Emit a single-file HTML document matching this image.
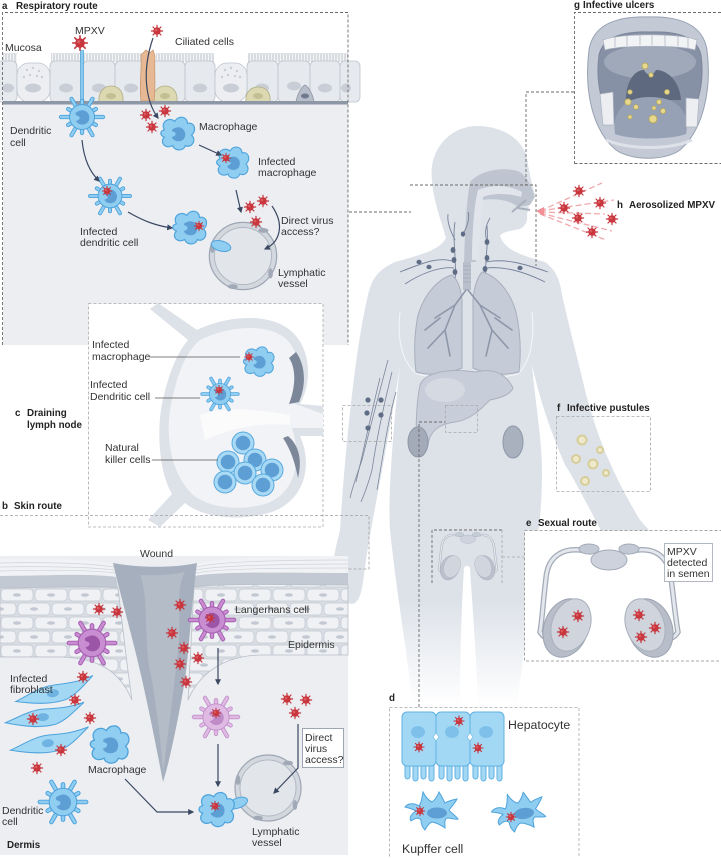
<!DOCTYPE html>
<html><head><meta charset="utf-8"><style>
html,body{margin:0;padding:0;background:#fff;}
svg{display:block;}
text{font-family:"Liberation Sans",sans-serif;fill:#333;}
.t{font-size:10.5px;}
.b{font-size:9.8px;font-weight:bold;fill:#222;}
.L{font-size:12.3px;}
</style></head><body>
<svg width="721" height="858" viewBox="0 0 721 858" xmlns="http://www.w3.org/2000/svg">
<defs>
<linearGradient id="bg" x1="0" y1="126" x2="0" y2="705" gradientUnits="userSpaceOnUse"><stop offset="0" stop-color="#dde2e9"/><stop offset="0.82" stop-color="#dde2e9"/><stop offset="1" stop-color="#ffffff"/></linearGradient>
<marker id="ar" viewBox="0 0 10 10" refX="8" refY="5" markerWidth="5" markerHeight="5" orient="auto"><path d="M0,0L10,5L0,10Z" fill="#3b4862"/></marker>
<g id="v"><path d="M0-5.6V5.6M-5.6 0H5.6M-4-4L4 4M-4 4L4-4" stroke="#c0343b" stroke-width="1.2" stroke-linecap="round"/><circle r="3.7" fill="#c9363e"/><circle cx="-1" cy="-1" r="1.3" fill="#d95a5f"/></g>
<g id="dc"><path d="M0 0L21 0M0 0L13.9 8M0 0L10.5 18.2M0 0L0 16M0 0L-10.5 18.2M0 0L-13.9 8M0 0L-21 0M0 0L-13.9 -8M0 0L-10.5 -18.2M0 0L0 -16M0 0L10.5 -18.2M0 0L13.9 -8" stroke="#4ea3dc" stroke-width="4.2" stroke-linecap="round"/><path d="M0 0L21 0M0 0L13.9 8M0 0L10.5 18.2M0 0L0 16M0 0L-10.5 18.2M0 0L-13.9 8M0 0L-21 0M0 0L-13.9 -8M0 0L-10.5 -18.2M0 0L0 -16M0 0L10.5 -18.2M0 0L13.9 -8" stroke="#8fcdf1" stroke-width="2.4" stroke-linecap="round"/><circle r="12.5" fill="#8fcdf1" stroke="#4ea3dc"/><path d="M-3,-6 C3,-9 9,-3 7,3 C5,9 -3,9 -6,4 C-2,3 -1,0 -4,-1 C-8,-2 -7,-5 -3,-6Z" fill="#5d9fd5"/></g>
<g id="lc"><path d="M0 0L21 0M0 0L13.9 8M0 0L10.5 18.2M0 0L0 16M0 0L-10.5 18.2M0 0L-13.9 8M0 0L-21 0M0 0L-13.9 -8M0 0L-10.5 -18.2M0 0L0 -16M0 0L10.5 -18.2M0 0L13.9 -8" stroke="#a65db2" stroke-width="4.2" stroke-linecap="round"/><path d="M0 0L21 0M0 0L13.9 8M0 0L10.5 18.2M0 0L0 16M0 0L-10.5 18.2M0 0L-13.9 8M0 0L-21 0M0 0L-13.9 -8M0 0L-10.5 -18.2M0 0L0 -16M0 0L10.5 -18.2M0 0L13.9 -8" stroke="#c98dd1" stroke-width="2.4" stroke-linecap="round"/><circle r="12.5" fill="#c98dd1" stroke="#a65db2"/><path d="M-3,-6 C3,-9 9,-3 7,3 C5,9 -3,9 -6,4 C-2,3 -1,0 -4,-1 C-8,-2 -7,-5 -3,-6Z" fill="#9c56a8"/></g>
<g id="lc2"><path d="M0 0L21 0M0 0L13.9 8M0 0L10.5 18.2M0 0L0 16M0 0L-10.5 18.2M0 0L-13.9 8M0 0L-21 0M0 0L-13.9 -8M0 0L-10.5 -18.2M0 0L0 -16M0 0L10.5 -18.2M0 0L13.9 -8" stroke="#c594cd" stroke-width="4.2" stroke-linecap="round"/><path d="M0 0L21 0M0 0L13.9 8M0 0L10.5 18.2M0 0L0 16M0 0L-10.5 18.2M0 0L-13.9 8M0 0L-21 0M0 0L-13.9 -8M0 0L-10.5 -18.2M0 0L0 -16M0 0L10.5 -18.2M0 0L13.9 -8" stroke="#dfbbe4" stroke-width="2.4" stroke-linecap="round"/><circle r="12.5" fill="#dfbbe4" stroke="#c594cd"/><path d="M-3,-6 C3,-9 9,-3 7,3 C5,9 -3,9 -6,4 C-2,3 -1,0 -4,-1 C-8,-2 -7,-5 -3,-6Z" fill="#bf8cc8"/></g>
<g id="mp"><path d="M-13,-4 C-17,-11 -9,-17 -3,-12 C0,-18 9,-17 9,-10 C16,-12 18,-3 13,1 C18,6 13,14 7,11 C5,17 -4,16 -5,11 C-12,15 -18,8 -13,3 C-18,1 -17,-3 -13,-4Z" fill="#8fcdf1" stroke="#4ea3dc" stroke-width="1.1"/><path d="M-2,-6 C4,-8 9,-2 6,4 C4,8 -4,8 -6,3 C-2,2 -1,-1 -4,-2 C-7,-3 -6,-5 -2,-6Z" fill="#5d9fd5"/></g>
<g id="nk"><circle r="11" fill="#a8d9f5" stroke="#5aa9de"/><circle r="7.3" fill="#5d9fd5"/></g>
<g id="lv"><circle r="33" fill="#d3d8df" stroke="#9ea6b4" stroke-width="1.2"/><circle r="28" fill="#e2e5ea" stroke="#b2b9c5"/><ellipse cx="-30" cy="-8" rx="2.3" ry="5" fill="#a1a9b6"/><ellipse cx="20" cy="-25" rx="5" ry="2.3" fill="#a1a9b6"/><ellipse cx="27" cy="17" rx="2.3" ry="5" fill="#a1a9b6"/><ellipse cx="-10" cy="30" rx="5" ry="2.3" fill="#a1a9b6"/></g>
<g id="fb"><path d="M-40,2 C-25,-3 -15,-9 0,-9 C12,-9 22,-8 40,-13 C28,-3 20,4 10,7 C-5,10 -22,7 -40,2Z" fill="#a3d8f5" stroke="#4ea3dc"/><ellipse cx="-2" cy="-1" rx="6" ry="4" fill="#6fb3e3"/></g>
<g id="kc"><path d="M-14,-6 C-20,-10 -26,-8 -28,-5 C-24,-4 -20,-3 -17,-1 C-22,2 -24,6 -22,9 C-18,6 -14,5 -12,8 C-12,13 -10,16 -8,18 C-6,14 -4,11 -1,10 C4,11 8,13 12,16 C12,11 11,8 14,6 C18,6 22,8 25,7 C22,3 18,1 16,-2 C19,-6 22,-9 24,-13 C19,-12 15,-11 12,-9 C10,-13 8,-17 6,-20 C4,-15 2,-12 -1,-10 C-5,-12 -8,-16 -10,-20 C-11,-15 -11,-10 -14,-6Z" fill="#8fcdf1" stroke="#4ea3dc"/><ellipse cx="4" cy="1" rx="10" ry="5.5" fill="#5d9fd5"/></g>
<g id="hep"><rect x="3" y="45" width="5" height="22" rx="2.5" fill="#a3d8f5" stroke="#5fb0e2"/><rect x="11" y="45" width="5" height="24" rx="2.5" fill="#a3d8f5" stroke="#5fb0e2"/><rect x="19" y="45" width="5" height="22" rx="2.5" fill="#a3d8f5" stroke="#5fb0e2"/><rect x="27" y="45" width="5" height="24" rx="2.5" fill="#a3d8f5" stroke="#5fb0e2"/><rect x="0" y="0" width="34" height="54" rx="5" fill="#a3d8f5" stroke="#5fb0e2"/><ellipse cx="16" cy="20" rx="7" ry="6" fill="#7fc0ea"/></g>
<g id="organ">
<path d="M590,552 C565,545 548,555 546,578 C543,602 542,622 540,632 C545,640 552,640 556,635" fill="none" stroke="#a3abb9" stroke-width="5.5" stroke-linecap="round"/>
<path d="M590,552 C565,545 548,555 546,578 C543,602 542,622 540,632 C545,640 552,640 556,635" fill="none" stroke="#e4e7ec" stroke-width="3" stroke-linecap="round"/>
<path d="M628,552 C653,545 668,555 671,578 C674,602 676,622 678,632 C673,640 666,640 662,635" fill="none" stroke="#a3abb9" stroke-width="5.5" stroke-linecap="round"/>
<path d="M628,552 C653,545 668,555 671,578 C674,602 676,622 678,632 C673,640 666,640 662,635" fill="none" stroke="#e4e7ec" stroke-width="3" stroke-linecap="round"/>
<ellipse cx="589" cy="549" rx="10" ry="5" fill="#c4cad5" stroke="#a3abb9"/>
<ellipse cx="629" cy="549" rx="10" ry="5" fill="#c4cad5" stroke="#a3abb9"/>
<ellipse cx="609" cy="560" rx="18" ry="10" fill="#cdd2dc" stroke="#a3abb9"/>
<ellipse cx="566" cy="628" rx="22" ry="30" transform="rotate(20 566 628)" fill="#b7bec9" stroke="#9aa2b0"/>
<ellipse cx="571" cy="625" rx="19" ry="27" transform="rotate(20 571 625)" fill="#cfd4dd" stroke="#a9b0bd"/>
<ellipse cx="650" cy="628" rx="22" ry="30" transform="rotate(-20 650 628)" fill="#b7bec9" stroke="#9aa2b0"/>
<ellipse cx="645" cy="625" rx="19" ry="27" transform="rotate(-20 645 625)" fill="#cfd4dd" stroke="#a9b0bd"/>
</g>
<pattern id="cil" x="0" y="53" width="3" height="10" patternUnits="userSpaceOnUse"><rect x="0.6" y="0" width="1.8" height="10" rx="0.9" fill="#f3f4f6" stroke="#b3bac5" stroke-width="0.5"/></pattern>
<pattern id="skc" x="0" y="588" width="34" height="28" patternUnits="userSpaceOnUse"><rect width="34" height="28" fill="#d9dde4"/><rect x="1" y="1" width="32" height="12" rx="4" fill="#eff1f4" stroke="#c4c9d2" stroke-width="0.7"/><ellipse cx="17" cy="7" rx="4" ry="1.8" fill="#c3c9d2"/><rect x="-16" y="15" width="32" height="12" rx="4" fill="#eff1f4" stroke="#c4c9d2" stroke-width="0.7"/><rect x="18" y="15" width="32" height="12" rx="4" fill="#eff1f4" stroke="#c4c9d2" stroke-width="0.7"/><ellipse cx="0" cy="21" rx="4" ry="1.8" fill="#c3c9d2"/><ellipse cx="34" cy="21" rx="4" ry="1.8" fill="#c3c9d2"/></pattern>
</defs>
<rect width="721" height="858" fill="#fff"/>

<!-- ===== BODY ===== -->
<path d="M477,126 C505,126 527,142 528,165 C530,175 532,185 535,195 L528,200 C530,205 528,210 527,214 C528,220 526,226 520,229 C510,231 502,232 500,236 C505,250 520,255 545,262 C556,270 560,280 562,295 C570,330 578,360 585,390 C595,430 610,470 640,520 L665,548 L610,548 C590,510 575,480 565,465 C550,430 540,400 532,365 C535,400 542,440 542,470 C542,500 540,520 538,535 C535,580 525,640 517,705 L478,705 C476,650 472,600 470,568 C468,565 466,565 464,568 C462,600 460,650 460,705 L413,705 C405,640 395,580 390,530 C388,500 392,440 400,365 C392,420 380,480 371,530 C368,545 366,560 364,575 C362,590 360,603 352,604 C342,603 333,590 333,570 C334,550 338,540 340,530 C345,450 355,350 368,295 C372,278 378,270 395,262 C420,255 440,250 446,238 C441,220 433,200 432,180 C428,150 450,126 477,126Z" fill="url(#bg)"/>
<!-- head internals -->
<path d="M470,182 C480,170 505,166 520,172 C528,178 532,188 535,197 L530,205 L518,207 C510,200 495,198 482,200 C478,210 478,230 476,262 L464,262 C465,235 466,205 470,182Z" fill="#bec5d0"/>
<path d="M478,190 C492,184 510,185 522,192 L521,197 C508,193 492,193 483,197 C481,215 480,240 478,260 L472,260 C472,235 474,205 478,190Z" fill="#e1e5eb"/>
<path d="M512,212 L526,200 M518,208 L530,210" stroke="#a8b0bd" stroke-width="2" fill="none"/>
<!-- neck lymph -->
<g stroke="#76829a" stroke-width="0.9" fill="none">
<path d="M455,222 C452,240 457,258 455,282"/><path d="M487,226 C489,245 484,262 486,282"/>
<path d="M455,262 C440,256 425,262 400,272"/><path d="M454,268 C440,266 420,274 405,284"/>
<path d="M486,262 C505,258 525,264 548,272"/><path d="M486,268 C505,266 525,272 545,282"/>
<path d="M455,240 C450,230 447,222 448,214"/><path d="M463,234 C468,225 470,218 468,212"/>
<path d="M487,242 C484,232 486,225 490,218"/>
</g>
<g fill="#5f6c85"><ellipse cx="453" cy="250" rx="2.4" ry="3"/><ellipse cx="454" cy="260" rx="2.4" ry="3"/><ellipse cx="455" cy="272" rx="2.4" ry="3"/><ellipse cx="463" cy="234" rx="2.2" ry="2.6"/><ellipse cx="487" cy="242" rx="2.4" ry="3"/><ellipse cx="487" cy="258" rx="2.4" ry="3"/><ellipse cx="485" cy="269" rx="2.4" ry="3"/><ellipse cx="419" cy="262" rx="2.6" ry="2.2"/><ellipse cx="429" cy="267" rx="2.6" ry="2.2"/><ellipse cx="520" cy="268" rx="2.6" ry="2.2"/></g>
<!-- thorax outline -->
<path d="M400,312 C397,340 402,362 417,374 C440,380 495,380 518,374 C530,362 535,340 532,312" stroke="#f4f5f7" stroke-width="1" fill="none"/>
<!-- lungs -->
<path d="M452,275 C440,278 425,292 418,315 C414,335 414,355 416,372 C430,376 448,374 462,368 L462,300 C461,290 458,280 452,275Z" fill="#c5ccd7" stroke="#a7afbd"/>
<path d="M482,272 C495,275 510,290 516,312 C521,335 521,355 519,372 C505,376 487,374 473,368 L473,300 C474,288 477,278 482,272Z" fill="#c5ccd7" stroke="#a7afbd"/>
<rect x="463" y="262" width="8" height="28" fill="#b9c0cc"/>
<path d="M463,266h8M463,270h8M463,274h8M463,278h8M463,282h8" stroke="#a2aab8" stroke-width="0.7"/>
<g stroke="#8d97a9" stroke-width="1.6" fill="none" stroke-linecap="round">
<path d="M466,290 L455,305 L445,330 M455,305 L435,318 M445,330 L428,348 M445,330 L450,356 M440,318 L425,330"/>
<path d="M468,290 L480,305 L492,330 M480,305 L500,318 M492,330 L508,348 M492,330 L486,356 M495,318 L512,330"/>
</g>
<!-- liver -->
<path d="M420,385 C425,372 450,368 475,372 C492,368 505,372 513,388 C510,395 500,398 490,400 C480,410 470,420 455,422 C440,424 430,430 428,445 C426,452 424,456 420,457 C414,445 416,405 420,385Z" fill="#c8ced9" stroke="#aab2bf"/>
<ellipse cx="445" cy="390" rx="20" ry="12" fill="#d4d9e2"/>
<ellipse cx="418" cy="442" rx="10" ry="15" fill="#a3abb9" stroke="#8d97a7"/>
<ellipse cx="513" cy="442" rx="10" ry="16" fill="#a9b1bf" stroke="#8d97a7"/>
<!-- arm lymph -->
<g stroke="#7c879b" stroke-width="0.8" fill="none">
<path d="M388,360 C380,390 372,420 362,460 C357,475 353,485 350,498"/>
<path d="M392,372 C385,400 378,430 372,470 C368,485 364,495 361,502"/>
<path d="M380,378 C372,410 366,440 356,482"/>
<path d="M396,392 C388,420 384,450 377,490"/>
</g>
<g fill="#5f6c85"><circle cx="368" cy="400" r="2.6"/><circle cx="381" cy="400" r="2.6"/><circle cx="367" cy="413" r="2.6"/><circle cx="381" cy="415" r="2.6"/><circle cx="368" cy="428" r="2.6"/></g>
<!-- pustules -->
<g fill="#efe9cc" stroke="#d6cd98" stroke-width="2"><circle cx="582" cy="440" r="4.5"/><circle cx="576" cy="459" r="4"/><circle cx="593" cy="464" r="4.5"/><circle cx="600" cy="450" r="3"/><circle cx="585" cy="481" r="4"/><circle cx="606" cy="473" r="3"/></g>
<!-- pelvis sketch -->
<g transform="translate(468,556) scale(0.42) translate(-609,-600)" opacity="0.9"><use href="#organ"/></g>

<!-- ===== PANEL A ===== -->
<rect x="3" y="104" width="345" height="241" fill="#eceef2"/>
<g fill="url(#cil)"><rect x="3" y="53" width="14" height="9"/><rect x="51" y="53" width="96" height="9"/><rect x="156" y="53" width="58" height="9"/><rect x="248" y="53" width="100" height="9"/></g>
<g fill="#e6e9ed" stroke="#bfc5ce" stroke-width="0.8">
<rect x="-10" y="61" width="27" height="41" rx="5"/><rect x="50" y="61" width="33" height="41" rx="5"/><rect x="83" y="61" width="32" height="41" rx="5"/><rect x="115" y="61" width="33" height="41" rx="5"/><rect x="148" y="61" width="37" height="41" rx="5"/><rect x="185" y="61" width="30" height="41" rx="5"/><rect x="247" y="61" width="31" height="41" rx="5"/><rect x="278" y="61" width="32" height="41" rx="5"/><rect x="310" y="61" width="30" height="41" rx="5"/><rect x="340" y="61" width="20" height="41" rx="5"/>
</g>
<g fill="#eceef1" stroke="#bfc5ce" stroke-width="0.8"><rect x="17" y="63" width="33" height="39" rx="12"/><rect x="215" y="63" width="32" height="39" rx="12"/></g>
<g fill="#c9ced6"><circle cx="27" cy="70" r="1.2"/><circle cx="33" cy="68" r="1.2"/><circle cx="39" cy="71" r="1.2"/><circle cx="30" cy="75" r="1.2"/><circle cx="37" cy="76" r="1.2"/><circle cx="24" cy="77" r="1.2"/><circle cx="42" cy="77" r="1.2"/><circle cx="225" cy="70" r="1.2"/><circle cx="231" cy="68" r="1.2"/><circle cx="237" cy="71" r="1.2"/><circle cx="228" cy="75" r="1.2"/><circle cx="235" cy="76" r="1.2"/><circle cx="222" cy="77" r="1.2"/><circle cx="240" cy="77" r="1.2"/>
<ellipse cx="33" cy="88" rx="8" ry="4.5"/><ellipse cx="231" cy="88" rx="8" ry="4.5"/>
<ellipse cx="8" cy="88" rx="6" ry="4.5"/><ellipse cx="66" cy="88" rx="7" ry="4.5"/><ellipse cx="99" cy="88" rx="7" ry="4.5"/><ellipse cx="131" cy="88" rx="7" ry="4.5"/><ellipse cx="200" cy="88" rx="7" ry="4.5"/><ellipse cx="262" cy="88" rx="7" ry="4.5"/><ellipse cx="294" cy="86" rx="7" ry="4.5"/><ellipse cx="325" cy="88" rx="7" ry="4.5"/><ellipse cx="346" cy="88" rx="5" ry="4.5"/></g>
<g fill="#dcd9b2" stroke="#b1ad85" stroke-width="0.8"><path d="M99,102 C98,92 104,86 111,86 C119,86 124,92 123,102Z"/><path d="M153,102 C152,92 158,86 165,86 C173,86 178,92 177,102Z"/><path d="M246,102 C245,92 251,87 258,87 C266,87 271,92 270,102Z"/></g>
<g fill="#c4bf92"><ellipse cx="111" cy="96" rx="5" ry="3"/><ellipse cx="165" cy="96" rx="5" ry="3"/><ellipse cx="258" cy="96" rx="5" ry="3"/></g>
<path d="M296,102 C297,95 301,87 305,85 C309,87 313,95 314,102Z" fill="#b7bdc9" stroke="#8e97a6" stroke-width="0.8"/><ellipse cx="305" cy="96" rx="4" ry="2.5" fill="#6f7a8e"/>
<path d="M141,101 C139,85 142,70 141,55 L146,50 L150,53 L153,50 L155,56 C154,70 156,85 154,101Z" fill="#e6b893" stroke="#c99972" stroke-width="0.8"/>
<rect x="3" y="101" width="345" height="3.5" fill="#8e97a6"/>
<path d="M82,50 V106" stroke="#4ea3dc" stroke-width="3.6"/><path d="M82,50 V106" stroke="#8fcdf1" stroke-width="1.8"/>
<use href="#lv" transform="translate(243,256) scale(1.02)"/>
<use href="#dc" transform="translate(82,117)"/>
<use href="#mp" transform="translate(178,134) scale(1.05)"/>
<use href="#mp" transform="translate(233,163)"/>
<use href="#dc" transform="translate(110,196) scale(0.95)"/>
<ellipse cx="221" cy="246" rx="10" ry="5" transform="rotate(15 221 246)" fill="#8fcdf1" stroke="#4ea3dc"/>
<use href="#mp" transform="translate(190,228) scale(1.05)"/>
<g fill="none" stroke="#3b4862" stroke-width="1.2">
<path d="M153,38 C142,70 145,100 158,118" marker-end="url(#ar)"/>
<path d="M82,140 C84,160 90,172 99,181" marker-end="url(#ar)"/>
<path d="M128,212 C145,222 158,226 172,228" marker-end="url(#ar)"/>
<path d="M199,145 L221,155" marker-end="url(#ar)"/>
<path d="M236,190 L241,212" marker-end="url(#ar)"/>
<path d="M272,206 C285,225 280,242 265,249" marker-end="url(#ar)"/>
</g>
<use href="#v" transform="translate(80,43) scale(1.3)"/>
<use href="#v" transform="translate(157,31)"/>
<use href="#v" transform="translate(146,115)"/><use href="#v" transform="translate(165,111)"/><use href="#v" transform="translate(152,127)"/>
<use href="#v" transform="translate(226,158) scale(0.85)"/><use href="#v" transform="translate(107,191) scale(0.85)"/><use href="#v" transform="translate(199,226) scale(0.85)"/>
<use href="#v" transform="translate(250,207)"/><use href="#v" transform="translate(263,201)"/><use href="#v" transform="translate(256,222)"/>
<text class="b" x="2" y="9">a</text><text class="b" x="16" y="9">Respiratory route</text>
<text class="t" x="5" y="51">Mucosa</text>
<text class="t" x="75" y="34">MPXV</text>
<text class="t" x="175" y="45">Ciliated cells</text>
<text class="t" x="10" y="134">Dendritic</text><text class="t" x="10" y="146">cell</text>
<text class="t" x="199" y="130">Macrophage</text>
<text class="t" x="258" y="165">Infected</text><text class="t" x="258" y="176">macrophage</text>
<text class="t" x="80" y="235">Infected</text><text class="t" x="80" y="246">dendritic cell</text>
<text class="t" x="281" y="224">Direct virus</text><text class="t" x="281" y="235">access?</text>
<text class="t" x="278" y="276">Lymphatic</text><text class="t" x="278" y="287">vessel</text>
<path d="M2.5,345 V12.5 H348 V345" fill="none" stroke="#6a6a6a" stroke-width="0.9" stroke-dasharray="3 2"/>

<!-- ===== PANEL C ===== -->
<rect x="88.5" y="303.5" width="234.5" height="223.5" fill="#fff" stroke="#aaa" stroke-width="0.8" stroke-dasharray="3 2"/>
<path d="M150,309 L158,303 L197,330 C225,316 268,312 290,330 C312,348 312,383 300,404 L323,406 L323,436 L300,436 C313,465 305,500 272,512 C240,522 203,518 185,503 L160,527 L148,520 L172,494 C158,470 156,425 164,395 C170,370 178,352 188,340Z" fill="#dde1e8"/>
<path d="M200,340 C228,326 266,323 285,338 C302,353 303,382 290,402 L323,414 L323,428 L292,428 C302,458 296,492 268,503 C240,512 208,508 192,494 C168,470 165,428 172,400 C178,372 186,352 200,340Z" fill="#f2f3f6"/>
<path d="M296,352 C306,366 306,386 299,402 L289,404 C296,386 296,368 289,358Z" fill="#7d879a"/>
<path d="M288,436 C300,446 302,462 298,478 C295,463 291,450 283,438Z" fill="#7d879a"/>
<path d="M200,415 C225,405 260,410 290,415 L290,425 C260,422 230,428 205,440Z" fill="#fbfbfc"/>
<use href="#mp" transform="translate(259,362) scale(0.95)"/>
<use href="#dc" transform="translate(220,394) scale(0.85)"/>
<use href="#v" transform="translate(249,357) scale(0.8)"/><use href="#v" transform="translate(219,390) scale(0.8)"/>
<use href="#nk" transform="translate(243,443)"/><use href="#nk" transform="translate(255,460)"/><use href="#nk" transform="translate(272,470)"/><use href="#nk" transform="translate(228,462)"/><use href="#nk" transform="translate(245,473)"/><use href="#nk" transform="translate(225,482)"/><use href="#nk" transform="translate(263,485)"/>
<g stroke="#555" stroke-width="0.8"><path d="M150,357 H240"/><path d="M155,398 H200"/><path d="M152,460 H218"/></g>
<text class="t" x="92" y="348">Infected</text><text class="t" x="92" y="360">macrophage</text>
<text class="t" x="90" y="388">Infected</text><text class="t" x="90" y="400">Dendritic cell</text>
<text class="t" x="105" y="451">Natural</text><text class="t" x="105" y="463">killer cells</text>
<text class="b" x="15" y="416">c</text><text class="b" x="27" y="416">Draining</text><text class="b" x="27" y="428">lymph node</text>

<!-- ===== PANEL B ===== -->
<rect x="0" y="556" width="348" height="299" fill="#eceef2"/>
<path d="M0,559 C40,558 90,559 113,564 L116,577 C90,573 40,576 0,576Z" fill="#f1f2f5"/>
<path d="M0,563 C40,562 90,563 114,567 M0,567 C40,566 90,567 114,570 M0,571 C40,570 90,570 115,573" stroke="#cfd3da" stroke-width="0.7" fill="none"/>
<path d="M0,576 C40,576 90,573 116,577 L118,588 C90,585 40,588 0,588Z" fill="#c3c9d3"/>
<path d="M0,588 C40,588 90,585 118,588 C122,620 126,660 132,700 C120,672 100,658 60,657 L0,657Z" fill="url(#skc)" stroke="#b9bfc9" stroke-width="0.8"/>
<path d="M348,556 C300,556 220,557 197,564 L195,576 C220,571 300,573 348,573Z" fill="#f1f2f5"/>
<path d="M348,560 C300,560 220,561 197,567 M348,564 C300,564 220,565 196,570 M348,568 C300,568 220,568 196,573" stroke="#cfd3da" stroke-width="0.7" fill="none"/>
<path d="M348,573 C300,573 220,571 195,576 L194,587 C220,583 300,585 348,585Z" fill="#c3c9d3"/>
<path d="M348,585 C300,585 220,583 194,587 C192,620 190,660 188,700 C200,672 225,656 260,655 L348,655Z" fill="url(#skc)" stroke="#b9bfc9" stroke-width="0.8"/>
<path d="M113,563 C140,568 175,568 197,563 C192,600 190,640 185,680 C178,720 170,760 163,782 C155,740 145,690 135,650 C125,610 118,585 113,563Z" fill="#a6afbd"/>
<path d="M140,575 C150,600 142,640 152,680 C158,720 162,750 163,775 C168,730 174,690 178,650 C182,610 175,590 185,572 C170,575 155,576 140,575Z" fill="#b4bcc8"/>
<use href="#lc" transform="translate(92,643) scale(1.1)"/>
<use href="#lc" transform="translate(212,620) scale(1.05)"/>
<use href="#lc2" transform="translate(216,717) scale(1.05)"/>
<use href="#fb" transform="translate(55,694) rotate(-8)"/>
<use href="#fb" transform="translate(45,718) rotate(-4)"/>
<use href="#fb" transform="translate(50,744) rotate(-6)"/>
<use href="#mp" transform="translate(110,745) scale(1.2)"/>
<use href="#dc" transform="translate(63,802) scale(1.1)"/>
<use href="#lv" transform="translate(268,788)"/>
<ellipse cx="238" cy="803" rx="10" ry="5" transform="rotate(-20 238 803)" fill="#8fcdf1" stroke="#4ea3dc"/>
<use href="#mp" transform="translate(217,810) scale(1.1)"/>
<g fill="none" stroke="#3b4862" stroke-width="1.2">
<path d="M218,648 V684" marker-end="url(#ar)"/>
<path d="M218,744 V786" marker-end="url(#ar)"/>
<path d="M125,779 L157,812 H193" marker-end="url(#ar)"/>
<path d="M298,724 V768 L274,793" marker-end="url(#ar)"/>
</g>
<rect x="302.5" y="728.5" width="41" height="39" fill="#fff" stroke="#8a93a3" stroke-width="0.8"/>
<text class="t" x="305" y="741">Direct</text><text class="t" x="305" y="752">virus</text><text class="t" x="305" y="763">access?</text>
<use href="#v" transform="translate(99,609)"/><use href="#v" transform="translate(117,612)"/><use href="#v" transform="translate(180,605)"/><use href="#v" transform="translate(172,633)"/><use href="#v" transform="translate(184,648)"/><use href="#v" transform="translate(180,664)"/><use href="#v" transform="translate(198,658)"/><use href="#v" transform="translate(186,682)"/><use href="#v" transform="translate(83,677)"/><use href="#v" transform="translate(90,718)"/><use href="#v" transform="translate(75,700)"/><use href="#v" transform="translate(33,719)"/><use href="#v" transform="translate(61,750)"/><use href="#v" transform="translate(37,768)"/><use href="#v" transform="translate(287,699)"/><use href="#v" transform="translate(306,700)"/><use href="#v" transform="translate(295,713)"/>
<use href="#v" transform="translate(215,806) scale(0.85)"/><use href="#v" transform="translate(210,618) scale(0.85)"/><use href="#v" transform="translate(216,713) scale(0.85)"/>
<text class="b" x="2" y="509">b</text><text class="b" x="14" y="509">Skin route</text>
<text class="t" x="140" y="557">Wound</text>
<text class="t" x="235" y="613">Langerhans cell</text>
<text class="t" x="288" y="648">Epidermis</text>
<text class="t" x="10" y="682">Infected</text><text class="t" x="10" y="693">fibroblast</text>
<text class="t" x="88" y="773">Macrophage</text>
<text class="t" x="2" y="814">Dendritic</text><text class="t" x="2" y="825">cell</text>
<text class="b" x="7" y="848">Dermis</text>
<text class="t" x="252" y="835">Lymphatic</text><text class="t" x="252" y="846">vessel</text>
<path d="M0,515.5 H369 V569 H348" fill="none" stroke="#a0a0a0" stroke-width="0.8" stroke-dasharray="3 2"/>

<!-- ===== PANEL G ===== -->
<path d="M574.5,164 V12.5 H721" fill="none" stroke="#6a6a6a" stroke-width="0.9" stroke-dasharray="3 2"/>
<path d="M574.5,163.5 H721" fill="none" stroke="#6a6a6a" stroke-width="0.9" stroke-dasharray="3 2"/>
<path d="M648,17 C680,16 703,25 707,50 C712,90 703,130 680,150 C665,161 632,161 616,150 C592,130 584,90 589,50 C593,25 616,16 648,17Z" fill="#c3cad6" stroke="#97a1b2"/>
<path d="M650,32 C680,31 697,38 701,55 C705,85 697,115 680,128 C665,136 635,136 620,128 C603,115 595,85 599,55 C603,38 620,31 650,32Z" fill="#8791a6" stroke="#7d879b"/>
<ellipse cx="650" cy="62" rx="46" ry="17" fill="#a0a9ba"/>
<path d="M603,40 C620,33 680,33 697,40 L695,50 C680,45 620,45 605,50Z" fill="#f2f3f5" stroke="#aab2c0" stroke-width="0.7"/>
<path d="M615,36V47M627,35V46M640,34V45M652,34V45M665,35V46M678,35V46M688,37V48" stroke="#aab2c0" stroke-width="0.7"/>
<path d="M626,100 C626,82 634,70 644,70 C647,76 653,76 656,70 C668,70 680,82 681,100Z" fill="#5e6980"/>
<path d="M615,134 C612,114 622,97 650,97 C680,97 690,114 686,134 C670,140 630,140 615,134Z" fill="#97a1b5"/>
<path d="M600,94 L613,92 L614,125 L603,125Z" fill="#eceef1" stroke="#aab2c0" stroke-width="0.7"/>
<path d="M686,98 L699,99 L697,127 L686,127Z" fill="#eceef1" stroke="#aab2c0" stroke-width="0.7"/>
<path d="M606,140 C630,150 670,150 692,140" stroke="#dde1e8" stroke-width="3" fill="none"/>
<g fill="#e6d98f" stroke="#b6a656" stroke-width="0.8"><circle cx="645" cy="66" r="3"/><circle cx="651" cy="75" r="2.2"/><circle cx="630" cy="92" r="2.2"/><circle cx="667" cy="92" r="2.5"/><circle cx="628" cy="102" r="3.2"/><circle cx="636" cy="107" r="2.4"/><circle cx="659" cy="102" r="2.4"/><circle cx="654" cy="108" r="2"/><circle cx="663" cy="111" r="2.6"/><circle cx="630" cy="117" r="2"/><circle cx="653" cy="119" r="4"/></g>
<text class="b" x="574" y="8">g</text><text class="b" x="583" y="8">Infective ulcers</text>

<!-- ===== PANEL H ===== -->
<g stroke="#f0a9ad" stroke-width="1.3" stroke-dasharray="6 3" fill="none"><path d="M540,211 L602,183"/><path d="M540,211 L614,200"/><path d="M540,212 L605,214"/><path d="M540,213 L612,231"/><path d="M540,214 L606,240"/></g>
<path d="M536,211 L544,207 L544,216Z" fill="#f08f95"/>
<use href="#v" transform="translate(579,191)"/><use href="#v" transform="translate(600,203)"/><use href="#v" transform="translate(564,208)"/><use href="#v" transform="translate(578,218)"/><use href="#v" transform="translate(592,232)"/><use href="#v" transform="translate(612,219)"/>
<text class="b" x="617" y="208">h</text><text class="b" x="629" y="208">Aerosolized MPXV</text>

<!-- ===== PANEL F ===== -->
<rect x="556.5" y="416.5" width="94" height="75" fill="none" stroke="#a8a8a8" stroke-width="0.8" stroke-dasharray="3 2"/>
<text class="b" x="557" y="411">f</text><text class="b" x="567" y="411">Infective pustules</text>

<!-- ===== PANEL E ===== -->
<rect x="524.5" y="530.5" width="197" height="130.5" fill="#fff" stroke="#8a8a8a" stroke-width="0.8" stroke-dasharray="3 2"/>
<use href="#organ"/>
<use href="#v" transform="translate(578,616)"/><use href="#v" transform="translate(563,632)"/><use href="#v" transform="translate(639,615)"/><use href="#v" transform="translate(655,628)"/><use href="#v" transform="translate(641,637)"/>
<rect x="664.5" y="543.5" width="48" height="38" fill="#fff" stroke="#a0a7b3" stroke-width="0.8"/>
<text class="t" x="667" y="555">MPXV</text><text class="t" x="667" y="566">detected</text><text class="t" x="667" y="577">in semen</text>
<text class="b" x="526" y="526">e</text><text class="b" x="538" y="526">Sexual route</text>

<!-- ===== PANEL D ===== -->
<rect x="389.5" y="707.5" width="189.5" height="160" fill="#fff" stroke="#a8a8a8" stroke-width="0.8" stroke-dasharray="3 2"/>
<use href="#hep" transform="translate(402,712)"/><use href="#hep" transform="translate(436,712)"/><use href="#hep" transform="translate(470,712)"/>
<path d="M436,733 L439,737 L436,741 L433,737Z M470,733 L473,737 L470,741 L467,737Z" fill="#fff" stroke="#5fb0e2" stroke-width="0.6"/>
<use href="#kc" transform="translate(433,812)"/><use href="#kc" transform="translate(520,813) rotate(-8)"/>
<use href="#v" transform="translate(419,747) scale(0.9)"/><use href="#v" transform="translate(459,721) scale(0.9)"/><use href="#v" transform="translate(478,748) scale(0.9)"/><use href="#v" transform="translate(420,811) scale(0.85)"/><use href="#v" transform="translate(511,817) scale(0.85)"/>
<text class="L" x="508" y="729">Hepatocyte</text>
<text class="L" x="402" y="853">Kupffer cell</text>
<text class="b" x="389" y="701">d</text>

<!-- ===== CONNECTORS ===== -->
<g fill="none" stroke="#6a6a6a" stroke-width="0.9" stroke-dasharray="3 2">
<path d="M349,212 H411"/>
<path d="M410,185 H536 V266"/>
<path d="M574,92 H526 V185"/>
<path d="M419,707 V422 H445"/>
<path d="M432,583 V530 H502"/>
</g>
<g fill="none" stroke="#a8a8a8" stroke-width="0.8" stroke-dasharray="3 2">
<rect x="445.5" y="405.5" width="32" height="27"/>
<rect x="342.5" y="405.5" width="49" height="36"/>
<path d="M502,530 V583 M502,557 H524"/>
</g>
</svg>
</body></html>
